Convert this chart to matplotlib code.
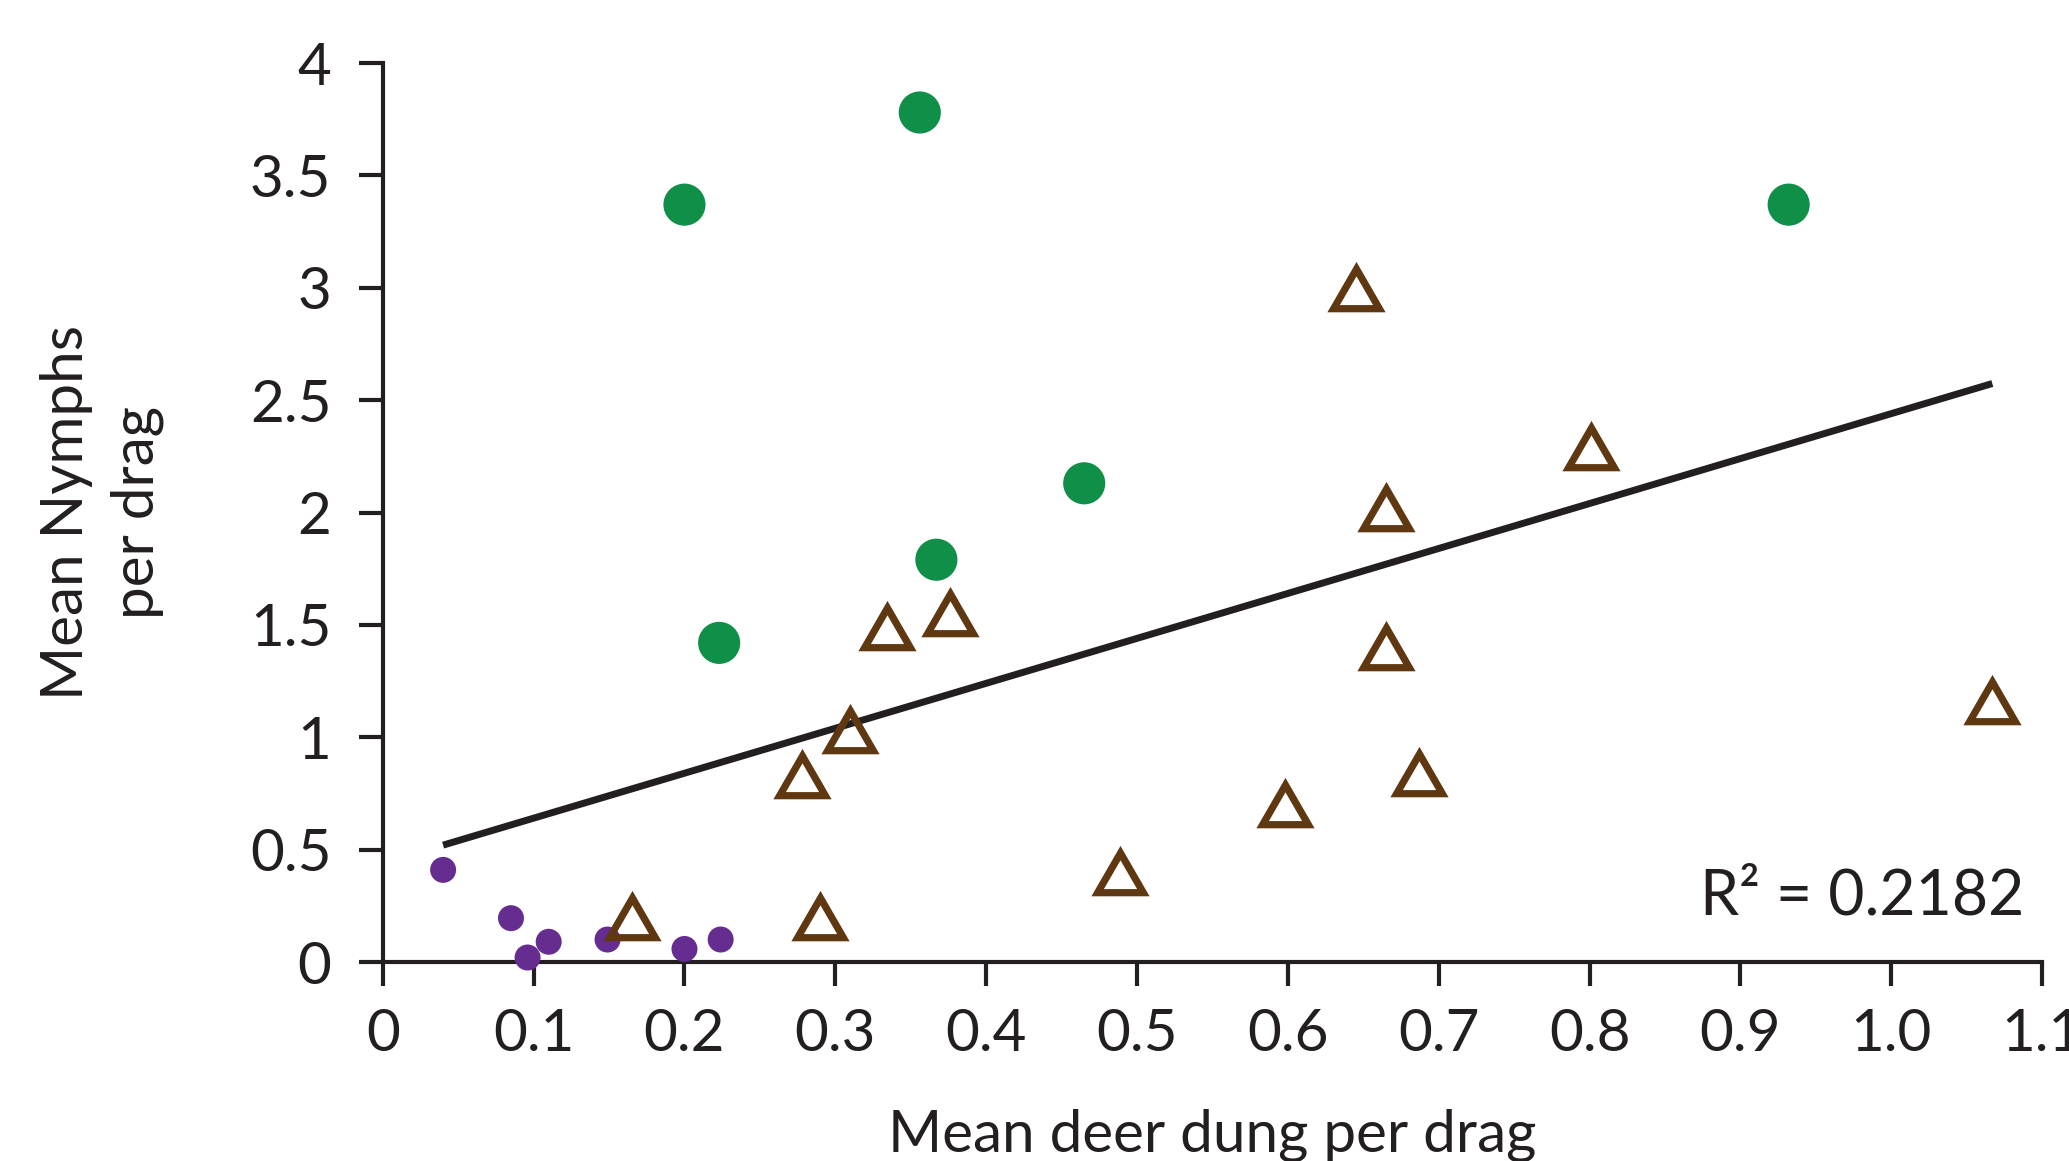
import matplotlib.pyplot as plt
import numpy as np

plt.rcParams["font.family"] = ["Lato", "DejaVu Sans"]

INK = "#231f20"

# Forest sites (green circles)
green_x = [0.200, 0.356, 0.932, 0.465, 0.367, 0.223]
green_y = [3.37, 3.78, 3.37, 2.13, 1.79, 1.42]

# Suburban sites (small purple circles)
purple_x = [0.040, 0.085, 0.096, 0.110, 0.149, 0.200, 0.224]
purple_y = [0.41, 0.195, 0.02, 0.09, 0.10, 0.058, 0.10]

# Intermediate sites (open triangles)
tri_x = [0.165, 0.290, 0.278, 0.310, 0.334, 0.376, 0.489, 0.598,
         0.645, 0.665, 0.665, 0.687, 0.801, 1.067]
tri_y = [0.17, 0.17, 0.80, 1.00, 1.46, 1.52, 0.37, 0.67,
         2.97, 1.99, 1.37, 0.81, 2.26, 1.13]

# Linear trend reported on the chart
trend_slope = 2.0
trend_intercept = 0.44
r_squared = 0.2182

x_ticks = [0, 0.1, 0.2, 0.3, 0.4, 0.5, 0.6, 0.7, 0.8, 0.9, 1.0, 1.1]
x_tick_labels = ["0", "0.1", "0.2", "0.3", "0.4", "0.5", "0.6", "0.7",
                 "0.8", "0.9", "1.0", "1.1"]
y_ticks = [0, 0.5, 1, 1.5, 2, 2.5, 3, 3.5, 4]
y_tick_labels = ["0", "0.5", "1", "1.5", "2", "2.5", "3", "3.5", "4"]

fig = plt.figure(figsize=(20.69, 11.61), dpi=100)
ax = fig.add_axes([0.185, 0.1714, 0.802, 0.7743])

all_x = np.array(green_x + purple_x + tri_x)
line_x = np.array([all_x.min(), all_x.max()])
ax.plot(line_x, trend_slope * line_x + trend_intercept, color=INK,
        linewidth=5.0, solid_capstyle="butt", zorder=1)

ax.scatter(green_x, green_y, s=920, color="#0f8f47", edgecolors="none", zorder=3)
ax.scatter(purple_x, purple_y, s=350, color="#662d91", edgecolors="none", zorder=3)
ax.plot(tri_x, tri_y, linestyle="none", marker=(3, 0, 0), markersize=38,
        markerfacecolor="none", markeredgecolor="#5f3812",
        markeredgewidth=5.2, zorder=4)

ax.set_xlim(0, 1.1)
ax.set_ylim(0, 4)
ax.set_xticks(x_ticks)
ax.set_xticklabels(x_tick_labels)
ax.set_yticks(y_ticks)
ax.set_yticklabels(y_tick_labels)

for side in ("top", "right"):
    ax.spines[side].set_visible(False)
for side in ("left", "bottom"):
    ax.spines[side].set_linewidth(3.0)
    ax.spines[side].set_color(INK)
ax.tick_params(direction="out", length=17, width=3.0, color=INK,
               labelsize=42, labelcolor=INK)
ax.tick_params(axis="y", pad=20)
ax.tick_params(axis="x", pad=16)
for coll in ax.collections:
    coll.set_clip_on(False)
for ln in ax.lines:
    ln.set_clip_on(False)

ax.set_xlabel("Mean deer dung per drag", fontsize=42, color=INK, labelpad=34)
ax.set_ylabel("Mean Nymphs\nper drag", fontsize=42, color=INK, labelpad=62,
              linespacing=1.4)

ax.text(1.088, 0.29, f"R\u00b2 = {r_squared:.4f}", fontsize=45, color=INK,
        ha="right", va="center")

fig.savefig("out.png", dpi=100)
